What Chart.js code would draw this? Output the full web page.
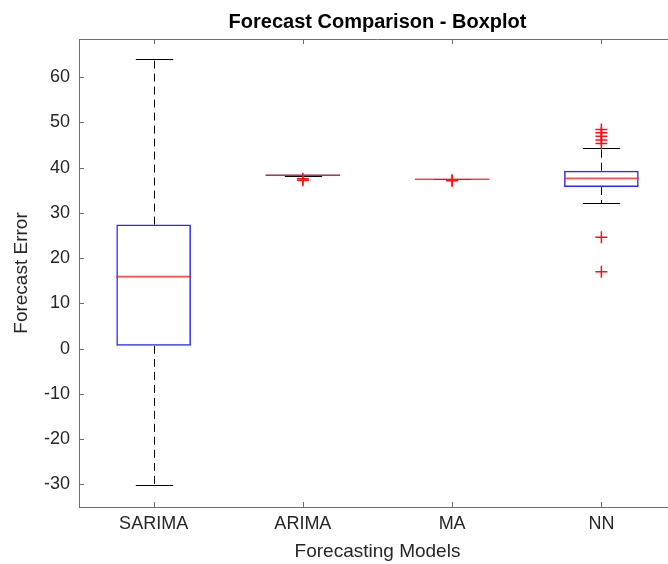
<!DOCTYPE html>
<html>
<head>
<meta charset="utf-8">
<script src="https://cdn.jsdelivr.net/npm/chart.js@4.4.0/dist/chart.umd.min.js"></script>
<style>
  html, body { margin: 0; padding: 0; background: #fff; }
  #wrap { width: 668px; height: 564px; overflow: hidden; }
</style>
</head>
<body>
<div id="wrap"><canvas id="grafico" width="690" height="564"></canvas></div>
<script>
// --- Dados ---
const modelos = ["SARIMA", "ARIMA", "MA", "NN"];
const bigodeInf = [-30.2, 38.15, 37.4, 32.1];  // lower whisker
const quartil1 = [0.6, 38.15, 37.35, 35.7];
const mediana = [15.9, 38.3, 37.4, 37.6];
const quartil3 = [27.4, 38.45, 37.45, 39.3];
const bigodeSup = [64.0, 38.45, 37.4, 44.4];   // upper whisker
const outliersModelo = ["ARIMA", "ARIMA", "MA", "MA", "NN", "NN", "NN", "NN", "NN", "NN", "NN"];
const outliersVal = [37.2, 37.5, 37.1, 37.2, 45.3, 46.1, 46.9, 47.7, 48.4, 24.6, 17.0];
const yTicks = [-30, -20, -10, 0, 10, 20, 30, 40, 50, 60];

const FONTE = "'Liberation Sans', Arial, Helvetica, sans-serif";
const COR_TEXTO = "#262626";
const COR_EIXO = "#6e6e6e";

// --- Plugin: bigodes, medianas, moldura e ticks internos ---
const boxplotExtras = {
  id: "boxplotExtras",
  beforeDatasetsDraw(chart) {
    const { ctx } = chart;
    const x = chart.scales.x, y = chart.scales.y;
    const meiaTampa = (x.getPixelForValue(1) - x.getPixelForValue(0)) * 0.125;
    ctx.save();
    ctx.strokeStyle = "#000";
    ctx.lineWidth = 1;
    modelos.forEach((m, i) => {
      const px = Math.round(x.getPixelForValue(i)) + 0.5;
      // whiskers tracejados
      ctx.setLineDash([8, 5]);
      ctx.beginPath();
      ctx.moveTo(px, y.getPixelForValue(quartil3[i]));
      ctx.lineTo(px, y.getPixelForValue(bigodeSup[i]));
      ctx.moveTo(px, y.getPixelForValue(quartil1[i]));
      ctx.lineTo(px, y.getPixelForValue(bigodeInf[i]));
      ctx.stroke();
      // tampas
      ctx.setLineDash([]);
      ctx.beginPath();
      const ys = Math.round(y.getPixelForValue(bigodeSup[i])) + 0.5;
      const yi = Math.round(y.getPixelForValue(bigodeInf[i])) + 0.5;
      ctx.moveTo(px - meiaTampa, ys);
      ctx.lineTo(px + meiaTampa, ys);
      ctx.moveTo(px - meiaTampa, yi);
      ctx.lineTo(px + meiaTampa, yi);
      ctx.stroke();
    });
    ctx.restore();
  },
  afterDatasetDraw(chart, args) {
    if (args.index !== 0) return;
    const { ctx } = chart;
    const x = chart.scales.x, y = chart.scales.y;
    const meiaCaixa = (x.getPixelForValue(1) - x.getPixelForValue(0)) * 0.25;
    ctx.save();
    ctx.strokeStyle = "rgba(255,32,32,0.8)";
    ctx.lineWidth = 1.6;
    modelos.forEach((m, i) => {
      const px = x.getPixelForValue(i);
      const py = y.getPixelForValue(mediana[i]);
      ctx.beginPath();
      ctx.moveTo(px - meiaCaixa, py);
      ctx.lineTo(px + meiaCaixa, py);
      ctx.stroke();
    });
    ctx.restore();
  },
  afterDraw(chart) {
    const { ctx, chartArea: a } = chart;
    const x = chart.scales.x, y = chart.scales.y;
    ctx.save();
    ctx.strokeStyle = COR_EIXO;
    ctx.lineWidth = 1;
    ctx.beginPath();
    ctx.moveTo(a.left, a.top + 0.5);
    ctx.lineTo(a.right, a.top + 0.5);
    ctx.lineTo(a.right - 0.5, a.bottom);
    // ticks internos
    x.ticks.forEach(t => {
      const px = Math.round(x.getPixelForValue(t.value)) + 0.5;
      ctx.moveTo(px, a.bottom);
      ctx.lineTo(px, a.bottom - 5);
      ctx.moveTo(px, a.top);
      ctx.lineTo(px, a.top + 5);
    });
    y.ticks.forEach(t => {
      const py = Math.round(y.getPixelForValue(t.value)) + 0.5;
      ctx.moveTo(a.left, py);
      ctx.lineTo(a.left + 5, py);
      ctx.moveTo(a.right, py);
      ctx.lineTo(a.right - 5, py);
    });
    ctx.stroke();
    // título
    ctx.fillStyle = "#000";
    ctx.font = "bold 20px " + FONTE;
    ctx.textAlign = "center";
    ctx.textBaseline = "middle";
    ctx.fillText("Forecast Comparison - Boxplot", (a.left + a.right) / 2, 22);
    ctx.restore();
  }
};

new Chart(document.getElementById("grafico").getContext("2d"), {
  data: {
    labels: modelos,
    datasets: [
      {
        type: "bar",
        label: "Caixa",
        data: modelos.map((m, i) => [quartil1[i], quartil3[i]]),
        backgroundColor: "rgba(0,0,0,0)",
        borderColor: "#2a2aff",
        borderWidth: 1.5,
        borderSkipped: false,
        barPercentage: 0.5,
        categoryPercentage: 1,
        grouped: false,
      },
      {
        type: "scatter",
        label: "Outliers",
        data: outliersModelo.map((m, i) => ({ x: m, y: outliersVal[i] })),
        pointStyle: "cross",
        radius: 6,
        hoverRadius: 6,
        borderColor: "#ff1010",
        borderWidth: 1.5,
      },
    ],
  },
  options: {
    responsive: false,
    animation: false,
    layout: { padding: { left: 0, top: 39, right: 14, bottom: 0 } },
    plugins: {
      legend: { display: false },
      tooltip: { enabled: false },
      title: { display: false },
    },
    scales: {
      x: {
        type: "category",
        offset: true,
        grid: { display: false, drawTicks: false, tickLength: 0 },
        border: { display: true, color: COR_EIXO },
        ticks: { color: COR_TEXTO, font: { family: FONTE, size: 18 }, padding: 6, maxRotation: 0 },
        title: {
          display: true,
          text: "Forecasting Models",
          color: COR_TEXTO,
          font: { family: FONTE, size: 19 },
          padding: { top: 0, bottom: 1 },
        },
        afterFit(s) { s.height = 57; },
      },
      y: {
        type: "linear",
        min: -35,
        max: 68.4,
        grid: { display: false, drawTicks: false, tickLength: 0 },
        border: { display: true, color: COR_EIXO },
        ticks: { color: COR_TEXTO, font: { family: FONTE, size: 18 }, padding: 9 },
        afterBuildTicks(s) { s.ticks = yTicks.map(v => ({ value: v })); },
        title: {
          display: true,
          text: "Forecast Error",
          color: COR_TEXTO,
          font: { family: FONTE, size: 19 },
          padding: { top: 10, bottom: 0 },
        },
        afterFit(s) { s.width = 79; },
      },
    },
  },
  plugins: [boxplotExtras],
});
</script>
</body>
</html>
